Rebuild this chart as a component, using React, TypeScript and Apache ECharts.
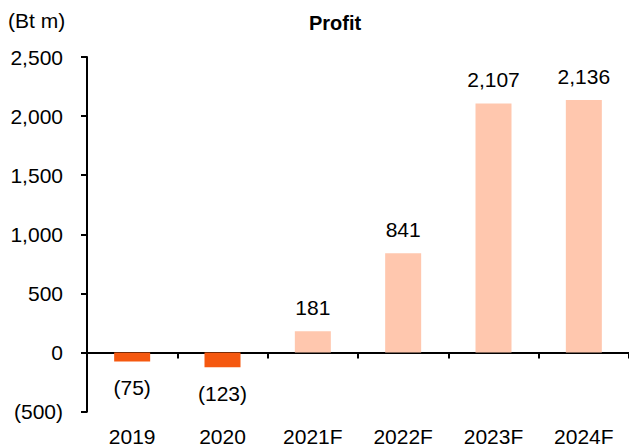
import React, { useEffect, useRef } from "react";
import * as echarts from "echarts";

const categories = ["2019", "2020", "2021F", "2022F", "2023F", "2024F"];
const profit = [-75, -123, 181, 841, 2107, 2136];
const isForecast = [false, false, true, true, true, true];
const yTicks = { min: -500, max: 2500, interval: 500 };

const FONT = "Liberation Sans, Arial, sans-serif";
const FS = 21;
const fmt = (v: number) => {
  const s = Math.abs(v).toLocaleString("en-US");
  return v < 0 ? `(${s})` : s;
};

export default function App() {
  const ref = useRef<HTMLDivElement>(null);
  useEffect(() => {
    const chart = echarts.init(ref.current!, null, { renderer: "svg" });
    chart.setOption({
      animation: false,
      textStyle: { fontFamily: FONT },
      graphic: [
        {
          type: "text",
          x: 335,
          y: 23,
          style: {
            text: "Profit",
            font: `bold 20px ${FONT}`,
            fill: "#000",
            textAlign: "center",
            textVerticalAlign: "middle",
          },
        },
        {
          type: "text",
          x: 8,
          y: 20,
          style: {
            text: "(Bt m)",
            font: `${FS}px ${FONT}`,
            fill: "#000",
            textAlign: "left",
            textVerticalAlign: "middle",
          },
        },
      ],
      grid: { left: 87, right: 0, top: 57, bottom: 36.3 },
      xAxis: [
        {
          type: "category",
          data: categories,
          axisLine: { onZero: true, lineStyle: { color: "#000", width: 2 } },
          axisTick: { show: true, length: 6, lineStyle: { color: "#000", width: 2 } },
          axisLabel: { show: false },
        },
        {
          type: "category",
          data: categories,
          position: "bottom",
          axisLine: { show: false, onZero: false },
          axisTick: { show: false },
          axisLabel: { margin: 14, fontSize: FS, color: "#000", fontFamily: FONT },
        },
      ],
      yAxis: {
        type: "value",
        min: yTicks.min,
        max: yTicks.max,
        interval: yTicks.interval,
        axisLine: { show: true, lineStyle: { color: "#000", width: 2 } },
        axisTick: { show: true, length: 6, lineStyle: { color: "#000", width: 2 } },
        splitLine: { show: false },
        axisLabel: {
          margin: 24,
          fontSize: FS,
          color: "#000",
          fontFamily: FONT,
          formatter: (v: number) => fmt(v),
        },
      },
      series: [
        {
          type: "bar",
          xAxisIndex: 0,
          barWidth: 36,
          data: profit.map((v, i) => ({
            value: v,
            itemStyle: { color: isForecast[i] ? "#FFC7AE" : "#F5580F" },
            label: {
              show: true,
              position: v < 0 ? "bottom" : "top",
              distance: v < 0 ? 16 : 13,
              formatter: () => fmt(v),
              fontSize: FS,
              color: "#000",
              fontFamily: FONT,
            },
          })),
        },
      ],
    });
    return () => chart.dispose();
  }, []);
  return (
    <div
      ref={ref}
      style={{ position: "absolute", left: 0, top: 0, width: 629, height: 448 }}
    />
  );
}
